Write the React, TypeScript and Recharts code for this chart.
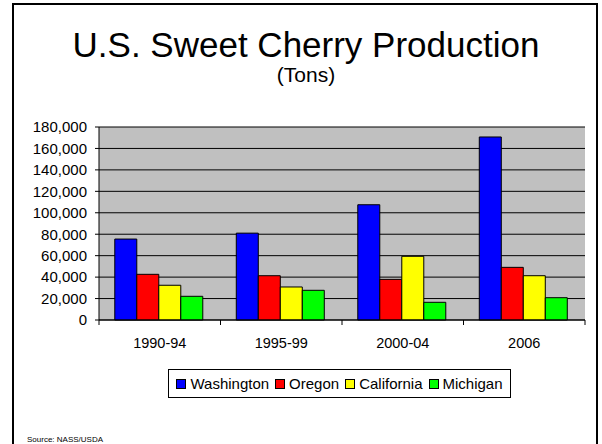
import { BarChart, Bar, XAxis, YAxis, CartesianGrid } from "recharts";

const periods = ["1990-94", "1995-99", "2000-04", "2006"];
const washington = [75500, 81000, 107500, 170700];
const oregon = [42600, 41300, 37900, 49100];
const california = [32400, 30800, 59400, 41300];
const michigan = [22100, 27700, 16500, 20800];
const yTicks = [0, 20000, 40000, 60000, 80000, 100000, 120000, 140000, 160000, 180000];

const series = [
  { key: "washington", name: "Washington", color: "#0000FF", values: washington },
  { key: "oregon", name: "Oregon", color: "#FF0000", values: oregon },
  { key: "california", name: "California", color: "#FFFF00", values: california },
  { key: "michigan", name: "Michigan", color: "#00FF00", values: michigan },
];

const data = periods.map((period, i) => {
  const row: { [key: string]: string | number } = { period };
  series.forEach((s) => {
    row[s.key] = s.values[i];
  });
  return row;
});

const FONT = "'Liberation Sans', Arial, sans-serif";

// category label plus tick marks on the category boundaries (Excel style)
function PeriodTick(props: any) {
  const { x, y, payload } = props;
  const half = payload.offset || 0;
  const isLast = payload.value === periods[periods.length - 1];
  return (
    <g>
      <line x1={x - half} x2={x - half} y1={y} y2={y + 5} stroke="#000" />
      {isLast && <line x1={x + half} x2={x + half} y1={y} y2={y + 5} stroke="#000" />}
      <text x={x} y={y + 28} textAnchor="middle" fontSize={14.5} fill="#000" fontFamily={FONT}>
        {payload.value}
      </text>
    </g>
  );
}

function App() {
  return (
    <div
      style={{
        position: "absolute",
        left: 0,
        top: 0,
        width: 602,
        height: 444,
        background: "#fff",
        fontFamily: FONT,
        overflow: "hidden",
      }}
    >
      {/* slide frame and texts */}
      <svg width={602} height={444} style={{ position: "absolute", left: 0, top: 0 }}>
        <rect x={13} y={4} width={584} height={460} fill="none" stroke="#000" strokeWidth={2} />
        <text x={306} y={57} textAnchor="middle" fontSize={35} fill="#000" fontFamily={FONT}>
          U.S. Sweet Cherry Production
        </text>
        <text x={306} y={82} textAnchor="middle" fontSize={21} fill="#000" fontFamily={FONT}>
          (Tons)
        </text>
        <text x={27} y={442} fontSize={8} fill="#000" fontFamily={FONT}>
          Source: NASS/USDA
        </text>
      </svg>

      <div style={{ position: "absolute", left: 0, top: 0 }}>
        <BarChart
          width={602}
          height={444}
          data={data}
          margin={{ top: 127, right: 17, bottom: 94, left: 0 }}
          barCategoryGap="13%"
          barGap={0}
        >
          <CartesianGrid vertical={false} fill="#C0C0C0" fillOpacity={1} stroke="#000" />
          <XAxis
            dataKey="period"
            tickLine={false}
            axisLine={{ stroke: "#000" }}
            tick={<PeriodTick />}
            tickSize={0}
            tickMargin={0}
            interval={0}
            height={30}
          />
          <YAxis
            domain={[0, 180000]}
            ticks={yTicks}
            interval={0}
            width={99}
            tickSize={4}
            tickMargin={8}
            axisLine={{ stroke: "#000" }}
            tickLine={{ stroke: "#000" }}
            tick={{ fill: "#000", fontSize: 15, fontFamily: FONT }}
            tickFormatter={(v: number) => v.toLocaleString("en-US")}
          />
          <YAxis
            yAxisId="right"
            orientation="right"
            domain={[0, 1]}
            width={0}
            tick={false}
            tickLine={false}
            axisLine={{ stroke: "#808080" }}
          />
          {series.map((s) => (
            <Bar
              key={s.key}
              dataKey={s.key}
              name={s.name}
              fill={s.color}
              stroke="#000"
              strokeWidth={1}
              isAnimationActive={false}
            />
          ))}
        </BarChart>
      </div>

      {/* legend */}
      <div
        style={{
          position: "absolute",
          left: 168,
          top: 369,
          width: 341,
          height: 27,
          border: "1px solid #000",
          display: "flex",
          alignItems: "center",
          justifyContent: "center",
          fontSize: 15,
          color: "#000",
          whiteSpace: "nowrap",
        }}
      >
        {series.map((s, i) => (
          <div
            key={s.key}
            style={{ display: "flex", alignItems: "center", marginLeft: i === 0 ? 0 : 6 }}
          >
            <span
              style={{
                display: "inline-block",
                width: 8,
                height: 8,
                background: s.color,
                border: "1px solid #000",
                marginRight: 4,
              }}
            />
            <span>{s.name}</span>
          </div>
        ))}
      </div>
    </div>
  );
}

export default App;
